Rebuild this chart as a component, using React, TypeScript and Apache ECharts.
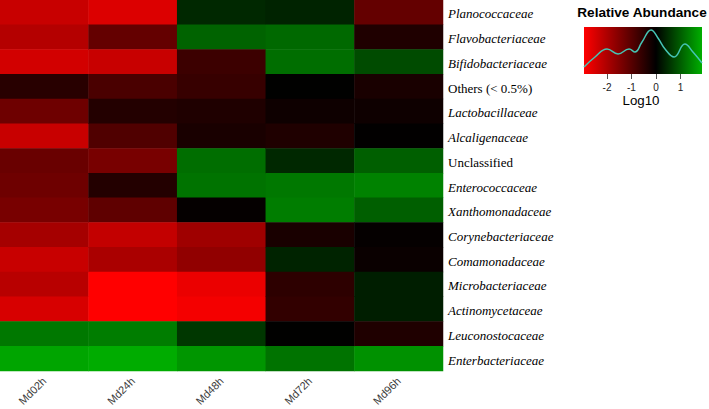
import React, { useEffect, useRef } from "react";
import * as echarts from "echarts";

const families = [
  "Planococcaceae",
  "Flavobacteriaceae",
  "Bifidobacteriaceae",
  "Others (< 0.5%)",
  "Lactobacillaceae",
  "Alcaligenaceae",
  "Unclassified",
  "Enterococcaceae",
  "Xanthomonadaceae",
  "Corynebacteriaceae",
  "Comamonadaceae",
  "Microbacteriaceae",
  "Actinomycetaceae",
  "Leuconostocaceae",
  "Enterbacteriaceae",
];
const nonItalic = ["Others (< 0.5%)", "Unclassified"];
const samples = ["Md02h", "Md24h", "Md48h", "Md72h", "Md96h"];

// log10 relative abundance per sample (rows in order of families)
const md02h = [-2.31, -2.08, -2.42, -0.46, -1.27, -2.31, -1.21, -1.27, -1.38, -1.9, -2.31, -2.13, -2.48, 1.29, 1.77];
const md24h = [-2.54, -1.15, -2.31, -0.86, -0.4, -0.92, -1.38, -0.4, -1.1, -2.25, -1.96, -2.94, -2.94, 1.34, 1.85];
const md48h = [0.43, 1.07, -0.69, -0.63, -0.35, -0.29, 1.18, 1.24, -0.06, -1.84, -1.67, -2.71, -2.82, 0.59, 1.61];
const md72h = [0.38, 1.13, 1.18, 0.0, -0.17, -0.35, 0.43, 1.29, 1.34, -0.29, 0.38, -0.52, -0.58, 0.0, 1.24];
const md96h = [-1.15, -0.35, 0.81, -0.29, -0.17, -0.02, 1.02, 1.4, 1.02, -0.06, -0.12, 0.32, 0.32, -0.35, 1.56];
const columns = [md02h, md24h, md48h, md72h, md96h];

const scaleMin = -2.94;
const scaleMax = 1.88;
const keyTicks = [-2, -1, 0, 1];

// density trace in the colour key
const densityX = [-2.94, -2.49, -2.0, -1.55, -1.1, -0.86, -0.57, -0.2, 0.08, 0.37, 0.74, 1.18, 1.51, 1.88];
const densityY = [7, 17, 25, 20, 25, 22, 32, 44, 36, 25, 17, 30, 22, 11];

const GREEN_MAX = 175;
function colorOf(v: number): string {
  if (v < 0) {
    const r = Math.round(255 * Math.min(1, -v / -scaleMin));
    return `rgb(${r},0,0)`;
  }
  const g = Math.round(GREEN_MAX * Math.min(1, v / scaleMax));
  return `rgb(0,${g},0)`;
}

export default function App() {
  const ref = useRef<HTMLDivElement>(null);
  useEffect(() => {
    if (!ref.current) return;
    const chart = echarts.init(ref.current, null, { renderer: "svg" });

    const N = 97;
    const colors: string[] = [];
    for (let i = 0; i < N; i++) {
      const v = scaleMin + ((scaleMax - scaleMin) * i) / (N - 1);
      colors.push(colorOf(v));
    }

    const heat: [number, number, number][] = [];
    columns.forEach((col, xi) => {
      col.forEach((v, yi) => heat.push([xi, yi, v]));
    });

    const zeroPos = -scaleMin / (scaleMax - scaleMin);

    chart.setOption({
      animation: false,
      backgroundColor: "#ffffff",
      grid: [
        { left: 0, top: 0, width: 443, height: 371, containLabel: false, outerBoundsMode: "none" },
        {
          left: 584,
          top: 27,
          width: 118,
          height: 47,
          show: true,
          borderWidth: 0,
          outerBoundsMode: "none",
          backgroundColor: new echarts.graphic.LinearGradient(0, 0, 1, 0, [
            { offset: 0, color: "#ff0000" },
            { offset: zeroPos, color: "#000000" },
            { offset: 1, color: `rgb(0,${GREEN_MAX},0)` },
          ]),
        },
      ],
      xAxis: [
        {
          type: "category",
          gridIndex: 0,
          data: samples,
          axisLine: { show: false },
          axisTick: { show: false },
          splitLine: { show: false },
          axisLabel: {
            rotate: 45,
            margin: 8,
            fontSize: 11,
            color: "#3a3a3a",
            fontFamily: "Liberation Sans, Arial, sans-serif",
          },
        },
        {
          type: "value",
          gridIndex: 1,
          min: scaleMin,
          max: scaleMax,
          axisLine: { show: false },
          splitLine: { show: false },
          axisTick: {
            show: true,
            customValues: keyTicks,
            length: 5,
            lineStyle: { color: "#555" },
          },
          axisLabel: {
            customValues: keyTicks,
            fontSize: 10,
            color: "#222",
            margin: 8,
            fontFamily: "Liberation Sans, Arial, sans-serif",
          },
        },
      ],
      yAxis: [
        {
          type: "category",
          gridIndex: 0,
          data: families,
          inverse: true,
          position: "right",
          axisLine: { show: false },
          axisTick: { show: false },
          splitLine: { show: false },
          axisLabel: {
            margin: 5,
            formatter: (v: string) => (nonItalic.includes(v) ? `{n|${v}}` : `{i|${v}}`),
            rich: {
              i: {
                fontStyle: "italic",
                fontFamily: "Liberation Serif, Times New Roman, serif",
                fontSize: 13,
                color: "#000",
                padding: [3, 0, 0, 0],
              },
              n: {
                fontStyle: "normal",
                fontFamily: "Liberation Serif, Times New Roman, serif",
                fontSize: 13,
                color: "#000",
                padding: [3, 0, 0, 0],
              },
            },
          },
        },
        {
          type: "value",
          gridIndex: 1,
          min: 0,
          max: 47,
          show: false,
        },
      ],
      visualMap: {
        show: false,
        type: "continuous",
        seriesIndex: 0,
        min: scaleMin,
        max: scaleMax,
        dimension: 2,
        inRange: { color: colors },
      },
      series: [
        {
          type: "heatmap",
          xAxisIndex: 0,
          yAxisIndex: 0,
          data: heat,
          itemStyle: { borderWidth: 0 },
        },
        {
          type: "line",
          xAxisIndex: 1,
          yAxisIndex: 1,
          data: densityX.map((x, i) => [x, densityY[i]]),
          smooth: 0.45,
          showSymbol: false,
          lineStyle: { color: "#45c4b4", width: 1.5 },
        },
      ],
      graphic: [
        {
          type: "text",
          x: 642,
          y: 12,
          style: {
            text: "Relative Abundance",
            align: "center",
            verticalAlign: "middle",
            fontSize: 13.6,
            fontWeight: "bold",
            fontFamily: "Liberation Sans, Arial, sans-serif",
            fill: "#000",
          },
        },
        {
          type: "text",
          x: 641,
          y: 100,
          style: {
            text: "Log10",
            align: "center",
            verticalAlign: "middle",
            fontSize: 13.3,
            fontFamily: "Liberation Sans, Arial, sans-serif",
            fill: "#000",
          },
        },
      ],
    });
    return () => chart.dispose();
  }, []);
  return (
    <div
      ref={ref}
      style={{ position: "fixed", left: 0, top: 0, width: 709, height: 409, background: "#fff" }}
    />
  );
}
